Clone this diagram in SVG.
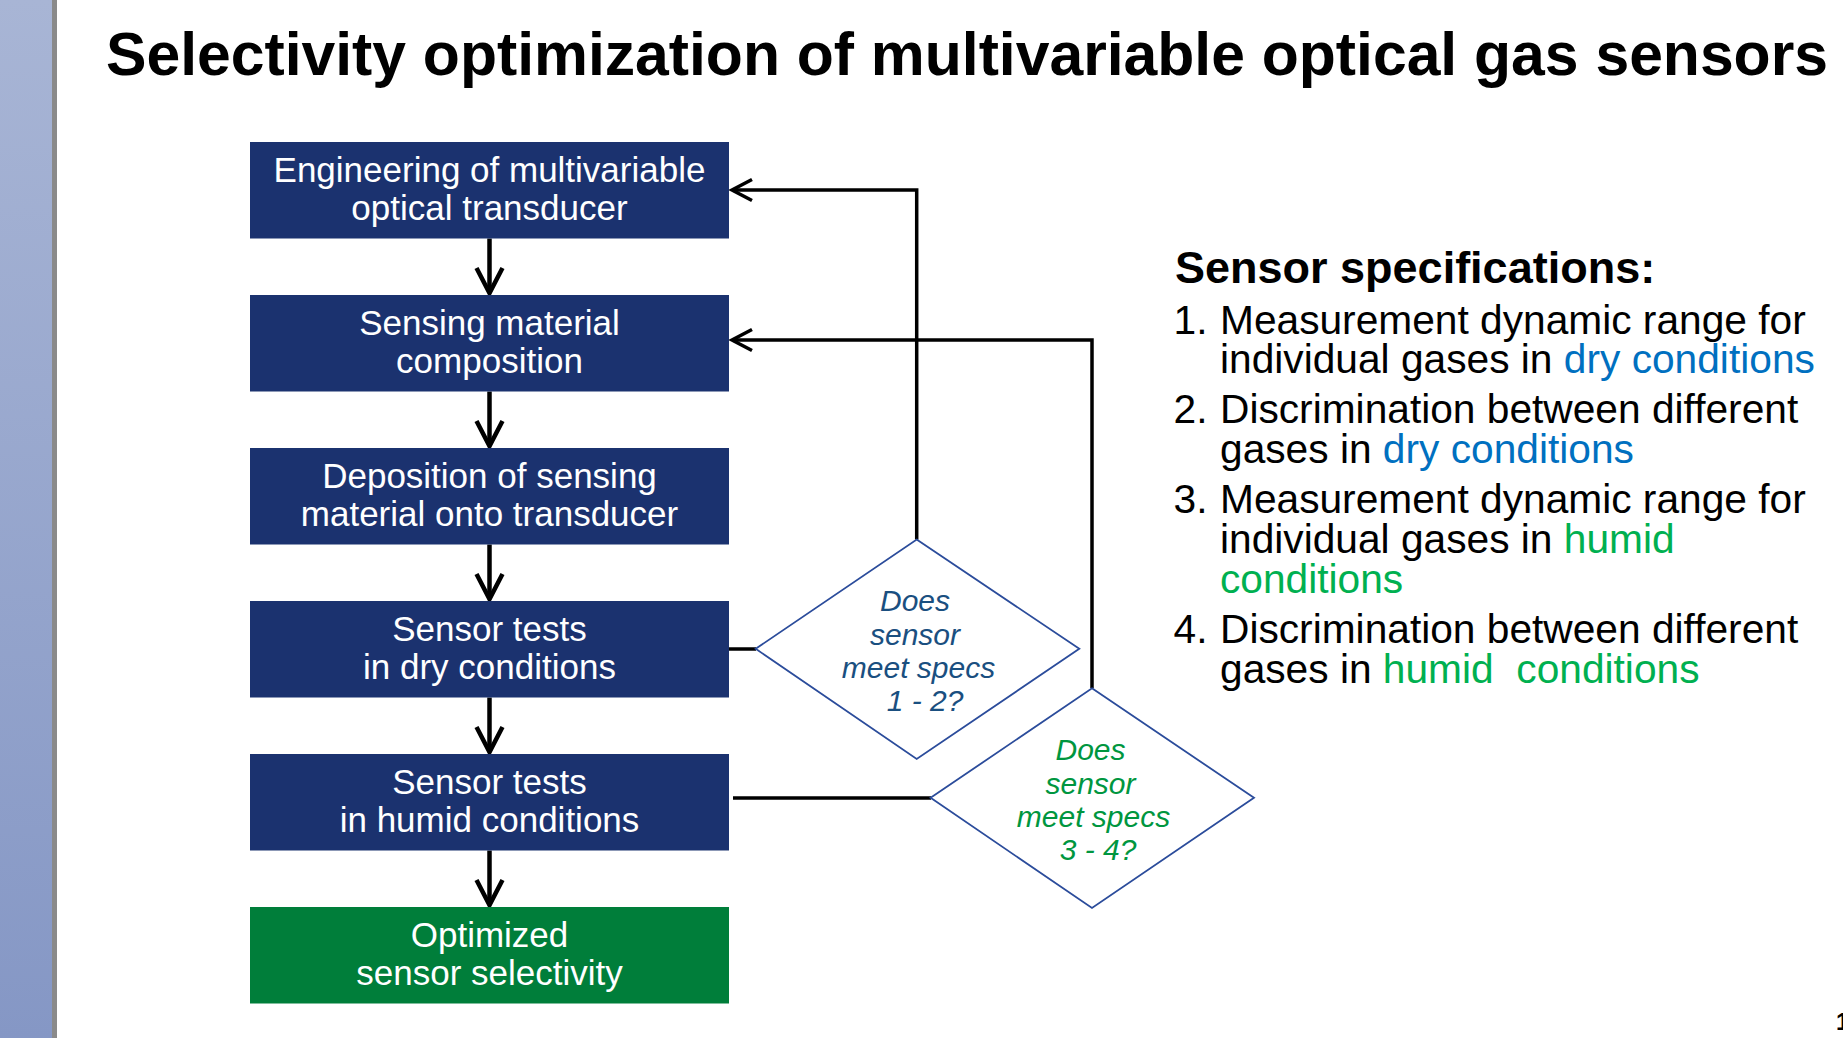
<svg xmlns="http://www.w3.org/2000/svg" width="1843" height="1038" viewBox="0 0 1843 1038">
  <defs>
    <linearGradient id="bandFill" x1="0" y1="0" x2="0" y2="1">
      <stop offset="0" stop-color="#a8b5d5"/>
      <stop offset="1" stop-color="#8597c5"/>
    </linearGradient>
    <!-- open V arrowheads, drawn pointing along +x and turned by orient="auto" -->
    <marker id="headBig" markerUnits="userSpaceOnUse" viewBox="-30 -16 34 32" refX="0" refY="0" markerWidth="34" markerHeight="32" orient="auto" overflow="visible">
      <path d="M-25,-13 L0,0 L-25,13" fill="none" stroke="#000" stroke-width="4.5" stroke-linecap="butt"/>
    </marker>
    <marker id="headSmall" markerUnits="userSpaceOnUse" viewBox="-24 -14 28 28" refX="0" refY="0" markerWidth="28" markerHeight="28" orient="auto" overflow="visible">
      <path d="M-20,-10.5 L0,0 L-20,10.5" fill="none" stroke="#000" stroke-width="3.5" stroke-linecap="butt"/>
    </marker>
  </defs>
  <style>
    .box { fill: #1b326f; }
    .box.done { fill: #007e3a; }
    .boxText { font-family: "Liberation Sans", Arial, sans-serif; font-size: 35px; fill: #ffffff; text-anchor: middle; }
    .decision { fill: #ffffff; stroke: #2b4c9b; stroke-width: 1.8; }
    .qText { font-family: "Liberation Sans", Arial, sans-serif; font-size: 30px; font-style: italic; text-anchor: middle; }
    .q1 { fill: #1a4f80; }
    .q2 { fill: #00963f; }
    .flow { fill: none; stroke: #000; stroke-width: 4.5; }
    .loop { fill: none; stroke: #000; stroke-width: 3.5; }
    .spec { font-family: "Liberation Sans", Arial, sans-serif; font-size: 40.7px; fill: #000; }
    .dry { fill: #0070c0; }
    .humid { fill: #00b050; }
  </style>

  <rect width="1843" height="1038" fill="#ffffff"/>

  <!-- side band -->
  <rect x="0" y="0" width="52" height="1038" fill="url(#bandFill)"/>
  <rect x="52" y="0" width="5" height="1038" fill="#8a8a8a"/>

  <!-- title -->
  <text x="106" y="74.5" font-family="Liberation Sans, Arial, sans-serif" font-weight="bold" font-size="62" fill="#000" textLength="1722" lengthAdjust="spacingAndGlyphs">Selectivity optimization of multivariable optical gas sensors</text>

  <!-- connectors -->
  <g id="connectors">
    <path class="flow" d="M489.5,238.5 V293" marker-end="url(#headBig)"/>
    <path class="flow" d="M489.5,391.5 V446" marker-end="url(#headBig)"/>
    <path class="flow" d="M489.5,544.5 V599" marker-end="url(#headBig)"/>
    <path class="flow" d="M489.5,697.5 V752" marker-end="url(#headBig)"/>
    <path class="flow" d="M489.5,850.5 V905" marker-end="url(#headBig)"/>
    <path class="loop" d="M729,649 H756"/>
    <path class="loop" d="M733,798 H931"/>
    <path class="loop" d="M916.7,539.5 V190 H732" marker-end="url(#headSmall)"/>
    <path class="loop" d="M1092,688.3 V340 H732" marker-end="url(#headSmall)"/>
  </g>

  <!-- process steps -->
  <g id="step-transducer">
    <rect class="box" x="250" y="142" width="479" height="96.5"/>
    <text class="boxText" x="489.5" y="181.7">Engineering of multivariable</text>
    <text class="boxText" x="489.5" y="219.5">optical transducer</text>
  </g>
  <g id="step-composition">
    <rect class="box" x="250" y="295" width="479" height="96.5"/>
    <text class="boxText" x="489.5" y="334.5">Sensing material</text>
    <text class="boxText" x="489.5" y="372.5">composition</text>
  </g>
  <g id="step-deposition">
    <rect class="box" x="250" y="448" width="479" height="96.5"/>
    <text class="boxText" x="489.5" y="487.5">Deposition of sensing</text>
    <text class="boxText" x="489.5" y="525.5">material onto transducer</text>
  </g>
  <g id="step-dry-tests">
    <rect class="box" x="250" y="601" width="479" height="96.5"/>
    <text class="boxText" x="489.5" y="640.5">Sensor tests</text>
    <text class="boxText" x="489.5" y="678.5">in dry conditions</text>
  </g>
  <g id="step-humid-tests">
    <rect class="box" x="250" y="754" width="479" height="96.5"/>
    <text class="boxText" x="489.5" y="793.5">Sensor tests</text>
    <text class="boxText" x="489.5" y="831.5">in humid conditions</text>
  </g>
  <g id="step-optimized">
    <rect class="box done" x="250" y="907" width="479" height="96.5"/>
    <text class="boxText" x="489.5" y="946.5">Optimized</text>
    <text class="boxText" x="489.5" y="984.5">sensor selectivity</text>
  </g>

  <!-- decisions -->
  <g id="check-specs-1-2">
    <polygon class="decision" points="916.7,539.5 1079.3,648.8 916.7,759 755.7,648.8"/>
    <text class="qText q1" x="915" y="611">Does</text>
    <text class="qText q1" x="915" y="644.5">sensor</text>
    <text class="qText q1" x="918.5" y="677.5">meet specs</text>
    <text class="qText q1" x="925" y="710.5">1 - 2?</text>
  </g>
  <g id="check-specs-3-4">
    <polygon class="decision" points="1092,688.3 1254,797.8 1092,908 930.6,797.8"/>
    <text class="qText q2" x="1090.5" y="760">Does</text>
    <text class="qText q2" x="1090.5" y="793.5">sensor</text>
    <text class="qText q2" x="1093.5" y="826.5">meet specs</text>
    <text class="qText q2" x="1098" y="859.5">3 - 4?</text>
  </g>

  <!-- specification list -->
  <g id="spec-list">
    <text x="1175" y="283.3" font-family="Liberation Sans, Arial, sans-serif" font-weight="bold" font-size="45" fill="#000">Sensor specifications:</text>
    <text class="spec" x="1173.5" y="333.5">1.</text>
    <text class="spec" x="1220" y="333.5">Measurement dynamic range for</text>
    <text class="spec" x="1220" y="373">individual gases in <tspan class="dry">dry conditions</tspan></text>
    <text class="spec" x="1173.5" y="423.3">2.</text>
    <text class="spec" x="1220" y="423.3">Discrimination between different</text>
    <text class="spec" x="1220" y="462.7">gases in <tspan class="dry">dry conditions</tspan></text>
    <text class="spec" x="1173.5" y="513.3">3.</text>
    <text class="spec" x="1220" y="513.3">Measurement dynamic range for</text>
    <text class="spec" x="1220" y="553">individual gases in <tspan class="humid">humid</tspan></text>
    <text class="spec humid" x="1220" y="592.6">conditions</text>
    <text class="spec" x="1173.5" y="643.3">4.</text>
    <text class="spec" x="1220" y="643.3">Discrimination between different</text>
    <text class="spec" x="1220" y="683" xml:space="preserve">gases in <tspan class="humid">humid  conditions</tspan></text>
  </g>

  <!-- page number, cut by the right edge -->
  <text x="1836" y="1030" font-family="Liberation Sans, Arial, sans-serif" font-weight="bold" font-size="24" fill="#000">1</text>
</svg>
